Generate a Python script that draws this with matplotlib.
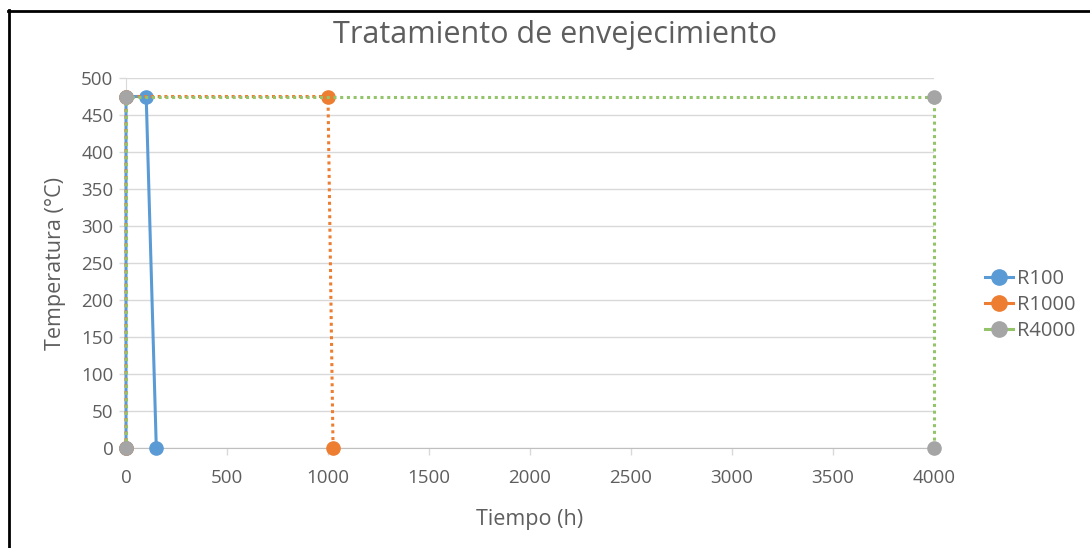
import matplotlib
matplotlib.use("Agg")
import matplotlib.pyplot as plt
from matplotlib.lines import Line2D

plt.rcParams['font.family'] = ['Open Sans', 'DejaVu Sans']

# Aging treatment profiles: time (h) vs temperature (°C)
r100_t = [0, 0, 100, 150]
r100_T = [0, 475, 475, 0]
r1000_t = [0, 0, 1000, 1025]
r1000_T = [0, 475, 475, 0]
r4000_t = [0, 0, 4000, 4000]
r4000_T = [0, 475, 475, 0]

series_names = ["R100", "R1000", "R4000"]
x_ticks = [0, 500, 1000, 1500, 2000, 2500, 3000, 3500, 4000]
y_ticks = [0, 50, 100, 150, 200, 250, 300, 350, 400, 450, 500]

blue = "#5B9BD5"
orange = "#ED7D31"
grey = "#A5A5A5"
green = "#93C46A"
text_c = "#5E5E5E"
grid_c = "#D9D9D9"

fig = plt.figure(figsize=(10.9, 5.48), dpi=100)
ax = fig.add_axes([126 / 1090, 100 / 548, 808 / 1090, 370 / 548])

ms = 9.5
ax.plot(r100_t, r100_T, color=blue, lw=2.2, marker="o", ms=ms,
        mfc=blue, mec=blue, zorder=3, label=series_names[0])
ax.plot(r1000_t, r1000_T, color=orange, lw=2.2, ls=(0, (1, 1.2)),
        marker="o", ms=ms, mfc=orange, mec=orange, zorder=4,
        label=series_names[1])
ax.plot(r4000_t, r4000_T, color=green, lw=2.2, ls=(0, (1, 1.2)),
        marker="o", ms=ms, mfc=grey, mec=grey, zorder=5,
        label=series_names[2])

ax.set_xlim(0, 4000)
ax.set_ylim(0, 500)
ax.set_xticks(x_ticks)
ax.set_yticks(y_ticks)
ax.tick_params(axis="both", colors=grid_c, labelcolor=text_c,
               labelsize=13.5, length=5, width=1)
ax.tick_params(axis="x", pad=10)
ax.tick_params(axis="y", pad=4)
ax.grid(axis="y", color=grid_c, lw=1)
ax.set_axisbelow(True)
for s in ["top", "right"]:
    ax.spines[s].set_visible(False)
ax.spines["left"].set_color(grid_c)
ax.spines["bottom"].set_color("#BFBFBF")
for lab in ax.get_xticklabels() + ax.get_yticklabels():
    lab.set_clip_on(False)
for ln in ax.get_lines():
    ln.set_clip_on(False)

ax.set_xlabel("Tiempo (h)", fontsize=15.5, color=text_c, labelpad=16)
ax.set_ylabel("Temperatura (°C)", fontsize=15.5, color=text_c, labelpad=11)
fig.text(555 / 1090, 1 - 35 / 548, "Tratamiento de envejecimiento",
         ha="center", va="center", fontsize=22, color=text_c)

handles = [
    Line2D([], [], color=blue, lw=2.2, marker="o", ms=11, mfc=blue, mec=blue),
    Line2D([], [], color=orange, lw=2.2, marker="o", ms=11, mfc=orange, mec=orange),
    Line2D([], [], color=green, lw=2.2, marker="o", ms=11, mfc=grey, mec=grey),
]
fig.legend(handles, series_names, loc="center left",
           bbox_to_anchor=(975 / 1090, 1 - 305 / 548), frameon=False,
           fontsize=14.5, labelcolor=text_c, handlelength=1.4,
           handletextpad=0.2, labelspacing=0.3, borderpad=0)

# Frame lines along the top and left edges
fig.add_artist(Line2D([8 / 1090, 1.0], [1 - 11 / 548, 1 - 11 / 548],
                      transform=fig.transFigure, color="black", lw=2))
fig.add_artist(Line2D([9 / 1090, 9 / 1090], [1 - 10 / 548, 0.0],
                      transform=fig.transFigure, color="black", lw=2))

fig.savefig("out.png", dpi=100, facecolor="white")
